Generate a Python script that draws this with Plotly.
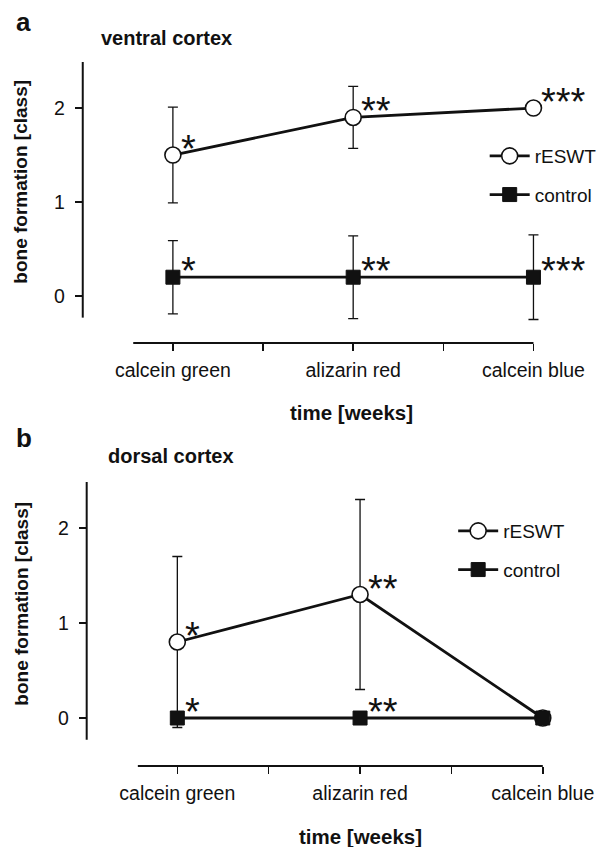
import plotly.graph_objects as go

# ---------------- data ----------------
categories = ["calcein green", "alizarin red", "calcein blue"]
series_names = ["rESWT", "control"]

# panel a: ventral cortex
a_reswt = [1.5, 1.9, 2.0]
a_reswt_err = [0.51, 0.33, 0.0]
a_control = [0.2, 0.2, 0.2]
a_control_err = [0.39, 0.44, 0.45]
a_reswt_stars = ["*", "**", "***"]
a_control_stars = ["*", "**", "***"]

# panel b: dorsal cortex
b_reswt = [0.8, 1.3, 0.0]
b_reswt_err = [0.9, 1.0, 0.0]
b_control = [0.0, 0.0, 0.0]
b_control_err = [0.0, 0.0, 0.0]
b_reswt_stars = ["*", "**", ""]
b_control_stars = ["*", "**", ""]

y_ticks = [0, 1, 2]
x_tickvals = [0, 0.5, 1, 1.5, 2]
x_ticktext = [categories[0], "", categories[1], "", categories[2]]

# ---------------- layout helpers ----------------
W, H = 606, 847
FONT = "Liberation Sans, Arial, sans-serif"
INK = "#111111"


def px(x):
    return x / W


def py(y):
    return 1 - y / H


xs = list(range(len(categories)))

fig = go.Figure()


def add_panel(reswt, reswt_err, control, control_err, xa, ya, legend):
    fig.add_trace(go.Scatter(
        x=xs, y=reswt, name=series_names[0], mode="lines+markers",
        xaxis=xa, yaxis=ya, legend=legend, legendgroup=legend + "r",
        line=dict(color=INK, width=2.8),
        marker=dict(symbol="circle", size=16, color="white",
                    line=dict(color=INK, width=1.6)),
        error_y=dict(type="data", array=reswt_err, visible=True,
                     color=INK, thickness=1.3, width=5),
        cliponaxis=False,
    ))
    fig.add_trace(go.Scatter(
        x=xs, y=control, name=series_names[1], mode="lines+markers",
        xaxis=xa, yaxis=ya, legend=legend, legendgroup=legend + "c",
        line=dict(color=INK, width=2.8),
        marker=dict(symbol="square", size=14, color=INK,
                    line=dict(color=INK, width=1)),
        error_y=dict(type="data", array=control_err, visible=True,
                     color=INK, thickness=1.3, width=5),
        cliponaxis=False,
    ))


add_panel(a_reswt, a_reswt_err, a_control, a_control_err, "x", "y", "legend")
add_panel(b_reswt, b_reswt_err, b_control, b_control_err, "x2", "y2", "legend2")

axis_common = dict(showgrid=False, zeroline=False, showline=False,
                   ticks="outside", ticklen=7, tickwidth=1.6, tickcolor=INK,
                   tickfont=dict(family=FONT, size=19.5, color=INK), fixedrange=True)

fig.update_layout(
    width=W, height=H,
    margin=dict(l=0, r=0, t=0, b=0),
    paper_bgcolor="white", plot_bgcolor="white",
    font=dict(family=FONT, color=INK),
    xaxis=dict(domain=[px(84), px(590)], range=[-0.5, 2.265], anchor="y",
               tickmode="array", tickvals=x_tickvals, ticktext=x_ticktext,
               ticklabelstandoff=3, **axis_common),
    yaxis=dict(domain=[py(343), py(62)], range=[-0.5, 2.49], anchor="x",
               tickmode="array", tickvals=y_ticks, ticklabelstandoff=6,
               **axis_common),
    xaxis2=dict(domain=[px(88), px(594)], range=[-0.496, 2.232], anchor="y2",
                tickmode="array", tickvals=x_tickvals, ticktext=x_ticktext,
                ticklabelstandoff=3, **axis_common),
    yaxis2=dict(domain=[py(766), py(482)], range=[-0.505, 2.484], anchor="x2",
                tickmode="array", tickvals=y_ticks, ticklabelstandoff=6,
                **axis_common),
    legend=dict(x=px(492), y=py(137), xanchor="left", yanchor="top",
                font=dict(family=FONT, size=19, color=INK),
                tracegroupgap=11, itemwidth=40, bgcolor="rgba(0,0,0,0)"),
    legend2=dict(x=px(460), y=py(512), xanchor="left", yanchor="top",
                 font=dict(family=FONT, size=19, color=INK),
                 tracegroupgap=11, itemwidth=40, bgcolor="rgba(0,0,0,0)"),
    showlegend=True,
)

# axis lines (offset style)
shapes = []
for xa, ya, ybot, ytop, xstart in [("x", "y", -0.23, 2.49, -0.22),
                                    ("x2", "y2", -0.23, 2.484, -0.216)]:
    shapes.append(dict(type="line", xref=xa + " domain", yref=ya,
                       x0=0, x1=0, y0=ybot, y1=ytop,
                       line=dict(color=INK, width=2)))
    shapes.append(dict(type="line", xref=xa, yref=ya + " domain",
                       x0=xstart, x1=xs[-1], y0=0, y1=0,
                       line=dict(color=INK, width=2)))
fig.update_layout(shapes=shapes)

ann = []
# significance stars
for vals, stars, xa, ya in [(a_reswt, a_reswt_stars, "x", "y"),
                            (a_control, a_control_stars, "x", "y"),
                            (b_reswt, b_reswt_stars, "x2", "y2"),
                            (b_control, b_control_stars, "x2", "y2")]:
    for xi, v, s in zip(xs, vals, stars):
        if not s:
            continue
        ann.append(dict(x=xi, y=v, xref=xa, yref=ya, text=s, showarrow=False,
                        xanchor="left", yanchor="middle", xshift=6, yshift=6,
                        font=dict(family=FONT, size=38, color=INK)))

# panel letters and titles
for txt, x, y, size in [("a", 14, 22, 26), ("b", 14, 438, 26)]:
    ann.append(dict(x=px(x), y=py(y), xref="paper", yref="paper", text="<b>%s</b>" % txt,
                    showarrow=False, xanchor="left", yanchor="middle",
                    font=dict(family=FONT, size=size, color=INK)))
for txt, x, y in [("ventral cortex", 100, 38), ("dorsal cortex", 108, 456)]:
    ann.append(dict(x=px(x), y=py(y), xref="paper", yref="paper", text="<b>%s</b>" % txt,
                    showarrow=False, xanchor="left", yanchor="middle",
                    font=dict(family=FONT, size=20, color=INK)))
# axis titles
for x, y in [(21, 182), (21, 604)]:
    ann.append(dict(x=px(x), y=py(y), xref="paper", yref="paper",
                    text="<b>bone formation [class]</b>", textangle=-90,
                    showarrow=False, xanchor="center", yanchor="middle",
                    font=dict(family=FONT, size=19, color=INK)))
for x, y in [(357, 413), (366, 836)]:
    ann.append(dict(x=px(x), y=py(y), xref="paper", yref="paper",
                    text="<b>time [weeks]</b>", showarrow=False,
                    xanchor="center", yanchor="middle",
                    font=dict(family=FONT, size=20.5, color=INK)))
fig.update_layout(annotations=ann)

fig.write_html("out.html", config={"displayModeBar": False, "staticPlot": True},
               post_script="document.body.style.margin='0';document.body.style.overflow='hidden';")
